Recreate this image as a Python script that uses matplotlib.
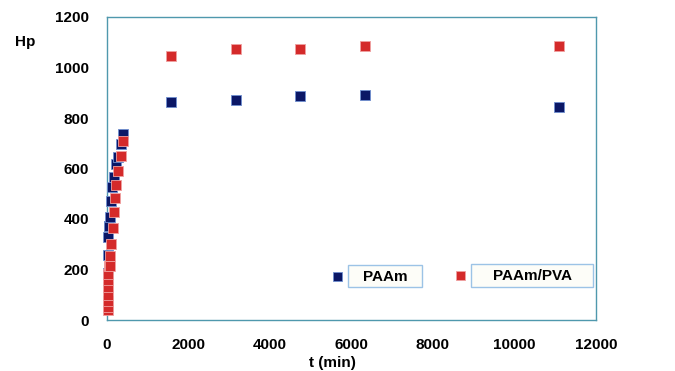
import matplotlib
matplotlib.use("Agg")
import matplotlib.pyplot as plt
from matplotlib.patches import Rectangle

# ---- data ----
paam_t = [25, 30, 35, 45, 55, 75, 95, 130, 180, 210, 260, 335, 400,
          1570, 3170, 4740, 6330, 11090]
paam_hp = [188, 258, 327, 373, 373, 406, 473, 528, 568, 618, 645, 698, 738,
           862, 873, 887, 890, 843]

pva_t = [25, 25, 25, 25, 25, 25, 30, 45, 65, 75, 100, 135, 160, 195, 230, 270, 335, 395,
         1570, 3170, 4740, 6330, 11090]
pva_hp = [40, 50, 75, 100, 130, 160, 183, 215, 215, 254, 300, 364, 426, 483, 536, 590, 648, 708,
          1045, 1075, 1075, 1085, 1085]

x_ticks = [0, 2000, 4000, 6000, 8000, 10000, 12000]
y_ticks = [0, 200, 400, 600, 800, 1000, 1200]
series_names = ["PAAm", "PAAm/PVA"]
x_label = "t (min)"
y_label = "Hp"

W, H = 675, 371
fig = plt.figure(figsize=(W / 100, H / 100), dpi=100)
ax = fig.add_axes([107 / W, 1 - 320 / H, (596 - 107) / W, (320 - 17) / H])

navy = "#0b1766"
red = "#d42a2a"
spine_c = "#4f98ad"
font = ["Liberation Sans", "DejaVu Sans"]

ax.scatter(paam_t, paam_hp, marker="s", s=48, color=navy,
           edgecolors="#6f8fd0", linewidths=0.6, zorder=3, clip_on=False)
ax.scatter(pva_t, pva_hp, marker="s", s=48, color=red,
           edgecolors="#f0a0a0", linewidths=0.6, zorder=4, clip_on=False)

ax.set_xlim(0, 12000)
ax.set_ylim(0, 1200)
ax.set_xticks(x_ticks)
ax.set_yticks(y_ticks)
ax.tick_params(axis="x", length=0, pad=13, labelsize=11)
ax.tick_params(axis="y", length=0, pad=13, labelsize=11)
for lab in ax.get_xticklabels() + ax.get_yticklabels():
    lab.set_fontfamily(font)
    lab.set_fontweight("bold")
for sp in ax.spines.values():
    sp.set_color(spine_c)
    sp.set_linewidth(1.0)

def fx(px):
    return px / W

def fy(py):
    return 1 - py / H

fig.text(fx(332), fy(363), x_label, ha="center", va="center",
         fontsize=11, fontweight="bold", family=font)
fig.text(fx(25), fy(42), y_label, ha="center", va="center",
         fontsize=11, fontweight="bold", family=font)

# custom legend
legend_items = [
    (series_names[0], navy, "#6f8fd0", 337, 276, 348, 265, 422, 287),
    (series_names[1], red, "#f0a0a0", 460, 275, 471, 264, 593, 287),
]
for name, col, ec, mx, my, bx0, by0, bx1, by1 in legend_items:
    fig.patches.append(Rectangle((fx(mx - 4.5), fy(my + 4.5)), 9 / W, 9 / H,
                                 transform=fig.transFigure, facecolor=col,
                                 edgecolor=ec, linewidth=0.6))
    fig.patches.append(Rectangle((fx(bx0), fy(by1)), (bx1 - bx0) / W, (by1 - by0) / H,
                                 transform=fig.transFigure, facecolor="#fdfdf8",
                                 edgecolor="#9cc3e6", linewidth=1.0))
    fig.text(fx((bx0 + bx1) / 2), fy((by0 + by1) / 2 + 1), name, ha="center", va="center",
             fontsize=11, fontweight="bold", family=font)

fig.savefig("out.png", dpi=100)
